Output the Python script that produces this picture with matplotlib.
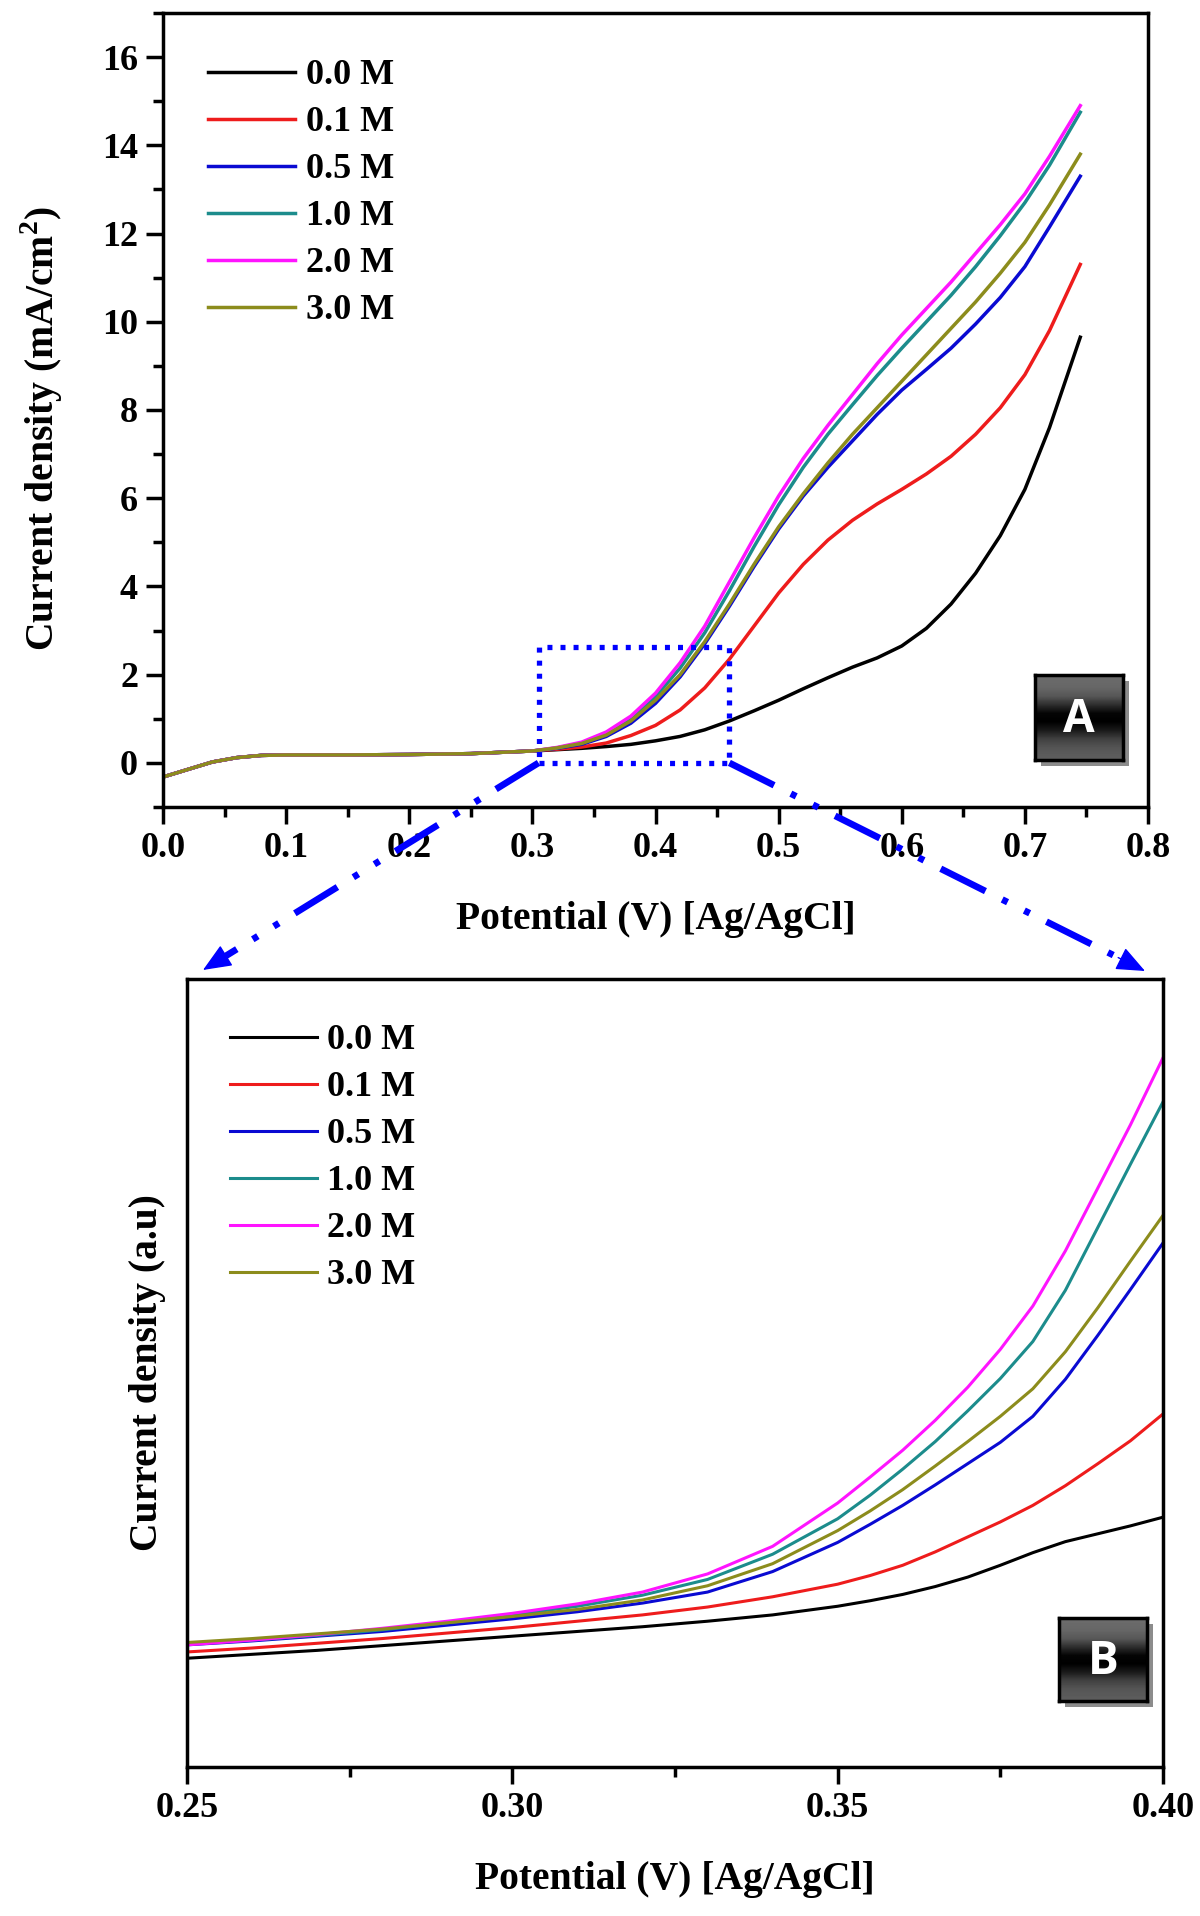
import numpy as np
import matplotlib.pyplot as plt
from matplotlib.lines import Line2D
from matplotlib.patches import Rectangle, FancyArrowPatch, ArrowStyle
from matplotlib.ticker import MultipleLocator, FormatStrFormatter

plt.rcParams['font.family'] = ['Liberation Serif', 'DejaVu Serif']
plt.rcParams['font.weight'] = 'bold'
plt.rcParams['axes.labelweight'] = 'bold'
plt.rcParams['mathtext.fontset'] = 'custom'
plt.rcParams['mathtext.rm'] = 'Liberation Serif:bold'
plt.rcParams['mathtext.bf'] = 'Liberation Serif:bold'
plt.rcParams['lines.scale_dashes'] = False

labels = ['0.0 M', '0.1 M', '0.5 M', '1.0 M', '2.0 M', '3.0 M']
colors = ['#000000', '#ee1c1c', '#0a0ad2', '#1c8c8c', '#ff14ff', '#8c8c1c']

# Panel A: full LSV scan
pot = [0.0, 0.02, 0.04, 0.06, 0.08, 0.10, 0.15, 0.20, 0.25, 0.30,
       0.32, 0.34, 0.36, 0.38, 0.40, 0.42, 0.44, 0.46, 0.48, 0.50, 0.52,
       0.54, 0.56, 0.58, 0.60, 0.62, 0.64, 0.66, 0.68, 0.70, 0.72, 0.745]
base = [-0.32, -0.15, 0.02, 0.12, 0.17, 0.18, 0.18, 0.19, 0.21, 0.27]
j_00 = base + [0.30, 0.33, 0.37, 0.42, 0.50, 0.60, 0.75, 0.95, 1.18, 1.42, 1.68,
               1.93, 2.17, 2.38, 2.65, 3.05, 3.60, 4.30, 5.15, 6.20, 7.60, 9.65]
j_01 = base + [0.31, 0.36, 0.45, 0.62, 0.85, 1.20, 1.70, 2.35, 3.10, 3.85, 4.50,
               5.05, 5.50, 5.87, 6.20, 6.55, 6.95, 7.45, 8.05, 8.80, 9.80, 11.30]
j_05 = base + [0.33, 0.42, 0.60, 0.90, 1.35, 1.95, 2.70, 3.55, 4.45, 5.30, 6.05,
               6.70, 7.30, 7.90, 8.45, 8.92, 9.40, 9.95, 10.55, 11.25, 12.15, 13.30]
j_10 = base + [0.34, 0.45, 0.66, 1.00, 1.50, 2.15, 2.95, 3.90, 4.90, 5.85, 6.70,
               7.45, 8.12, 8.78, 9.40, 10.00, 10.60, 11.25, 11.95, 12.70, 13.55, 14.75]
j_20 = base + [0.35, 0.47, 0.70, 1.06, 1.58, 2.27, 3.10, 4.10, 5.10, 6.05, 6.90,
               7.65, 8.35, 9.05, 9.70, 10.30, 10.90, 11.55, 12.20, 12.90, 13.75, 14.90]
j_30 = base + [0.34, 0.44, 0.63, 0.95, 1.42, 2.00, 2.75, 3.60, 4.50, 5.35, 6.10,
               6.80, 7.45, 8.05, 8.65, 9.25, 9.85, 10.45, 11.10, 11.80, 12.65, 13.80]

# Panel B: zoom 0.25-0.40 V (arbitrary units)
pot_z = [0.25, 0.26, 0.27, 0.28, 0.29, 0.30, 0.31, 0.32, 0.33, 0.34, 0.35,
         0.355, 0.36, 0.365, 0.37, 0.375, 0.38, 0.385, 0.39, 0.395, 0.40]
z_00 = [1.38, 1.43, 1.48, 1.54, 1.60, 1.66, 1.72, 1.78, 1.85, 1.93, 2.04,
        2.11, 2.19, 2.29, 2.41, 2.56, 2.72, 2.86, 2.96, 3.06, 3.17]
z_01 = [1.46, 1.51, 1.57, 1.63, 1.70, 1.77, 1.85, 1.93, 2.03, 2.16, 2.32,
        2.43, 2.56, 2.73, 2.92, 3.11, 3.32, 3.57, 3.85, 4.14, 4.48]
z_05 = [1.55, 1.60, 1.66, 1.72, 1.80, 1.88, 1.97, 2.08, 2.22, 2.48, 2.85,
        3.08, 3.32, 3.58, 3.85, 4.12, 4.45, 4.92, 5.48, 6.06, 6.65]
z_10 = [1.56, 1.61, 1.67, 1.74, 1.83, 1.93, 2.04, 2.18, 2.38, 2.70, 3.15,
        3.45, 3.78, 4.13, 4.52, 4.93, 5.40, 6.05, 6.85, 7.65, 8.44]
z_20 = [1.55, 1.61, 1.68, 1.76, 1.85, 1.95, 2.07, 2.22, 2.45, 2.80, 3.35,
        3.68, 4.02, 4.40, 4.82, 5.30, 5.85, 6.55, 7.35, 8.15, 9.00]
z_30 = [1.58, 1.63, 1.69, 1.75, 1.83, 1.91, 2.00, 2.12, 2.30, 2.58, 3.00,
        3.25, 3.52, 3.82, 4.13, 4.45, 4.80, 5.27, 5.83, 6.42, 7.00]

full_series = [j_00, j_01, j_05, j_10, j_20, j_30]
zoom_series = [z_00, z_01, z_05, z_10, z_20, z_30]

W, H = 1200, 1916
fig = plt.figure(figsize=(W / 100, H / 100), dpi=100)
ax1 = fig.add_axes([163 / W, 1 - 807 / H, 985 / W, 794 / H])
ax2 = fig.add_axes([187 / W, 1 - 1767 / H, 976 / W, 788 / H])


def style_axes(ax):
    for s in ax.spines.values():
        s.set_linewidth(2.5)
    ax.tick_params(which='both', direction='out', top=False, right=False,
                   width=2.5, labelsize=26, pad=6)
    ax.tick_params(which='major', length=12)
    ax.tick_params(which='minor', length=7)


# ---- panel A
for y, c, lab in zip(full_series, colors, labels):
    ax1.plot(pot, y, color=c, lw=2.5, label=lab)
ax1.set_xlim(0, 0.8)
ax1.set_ylim(-1, 17)
ax1.xaxis.set_major_locator(MultipleLocator(0.1))
ax1.xaxis.set_minor_locator(MultipleLocator(0.05))
ax1.xaxis.set_major_formatter(FormatStrFormatter('%.1f'))
ax1.yaxis.set_major_locator(MultipleLocator(2))
ax1.yaxis.set_minor_locator(MultipleLocator(1))
style_axes(ax1)
ax1.set_xlabel('Potential (V) [Ag/AgCl]', fontsize=28.5, labelpad=26)
ax1.set_ylabel('Current density (mA/cm$^\\mathregular{2}$)', fontsize=28.5)
ax1.yaxis.set_label_coords(-0.099, 0.477)
ax1.legend(loc='upper left', bbox_to_anchor=(0.0457, 0.942), frameon=False,
           fontsize=26, handlelength=2.4, handletextpad=0.3, labelspacing=0.38,
           borderpad=0, borderaxespad=0)

# dotted zoom box
box_x0, box_x1, box_y1 = 0.305, 0.46, 2.63
ax1.add_patch(Rectangle((box_x0, 0), box_x1 - box_x0, box_y1, fill=False,
                        ec='#0000ff', lw=3.8, ls=(0, (3.6, 5.8)), zorder=6,
                        capstyle='butt'))

# ---- panel B
for y, c, lab in zip(zoom_series, colors, labels):
    ax2.plot(pot_z, y, color=c, lw=2.2, label=lab)
ax2.set_xlim(0.25, 0.40)
ax2.set_ylim(0, 10)
ax2.xaxis.set_major_locator(MultipleLocator(0.05))
ax2.xaxis.set_minor_locator(MultipleLocator(0.025))
ax2.xaxis.set_major_formatter(FormatStrFormatter('%.2f'))
ax2.set_yticks([])
style_axes(ax2)
ax2.tick_params(axis='y', left=False, which='both')
ax2.set_xlabel('Potential (V) [Ag/AgCl]', fontsize=28.5, labelpad=26)
ax2.set_ylabel('Current density (a.u)', fontsize=28.5, labelpad=15)
ax2.legend(loc='upper left', bbox_to_anchor=(0.044, 0.943), frameon=False,
           fontsize=26, handlelength=2.4, handletextpad=0.3, labelspacing=0.38,
           borderpad=0, borderaxespad=0)

# ---- dash-dot-dot arrows from box to panel B
fig.canvas.draw()
to_px = ax1.transData
inv = fig.transFigure.inverted()
dash = (0, (36, 13.5, 4.3, 13.5, 4.3, 13.5))
starts = [to_px.transform((box_x0, 0)), to_px.transform((box_x1, 0))]
ends = [np.array([203.0, H - 970.0]), np.array([1145.0, H - 971.0])]
for p0, p1 in zip(starts, ends):
    d = (p1 - p0) / np.hypot(*(p1 - p0))
    q = p1 - d * 20
    a, b = inv.transform(p0), inv.transform(q)
    fig.add_artist(Line2D([a[0], b[0]], [a[1], b[1]], transform=fig.transFigure,
                          color='#0000ff', lw=4.8, ls=dash, solid_capstyle='butt',
                          dash_capstyle='butt', zorder=7))
    h0 = inv.transform(p1 - d * 30)
    h1 = inv.transform(p1)
    fig.add_artist(FancyArrowPatch(h0, h1, transform=fig.transFigure,
                                   arrowstyle=ArrowStyle('-|>', head_length=1.0, head_width=0.42),
                                   mutation_scale=18, color='#0000ff', lw=1,
                                   shrinkA=0, shrinkB=0, zorder=7))

# ---- A / B badges
grad = np.array([[0.42], [0.40], [0.34], [0.18], [0.02], [0.0], [0.10], [0.25], [0.33], [0.36]])


def badge(x0, y0, x1, y1, letter):
    fx, fy, fw, fh = x0 / W, 1 - y1 / H, (x1 - x0) / W, (y1 - y0) / H
    fig.add_artist(Rectangle((fx + 6 / W, fy - 6 / H), fw, fh, transform=fig.transFigure,
                             fc='#8c8c8c', ec='none', zorder=8))
    bx = fig.add_axes([fx, fy, fw, fh])
    bx.set_zorder(9)
    bx.imshow(grad, aspect='auto', cmap='gray', vmin=0, vmax=1,
              extent=[0, 1, 0, 1], interpolation='bilinear')
    bx.set_xticks([])
    bx.set_yticks([])
    for s in bx.spines.values():
        s.set_linewidth(2.5)
    bx.text(0.5, 0.48, letter, color='white', fontsize=33, fontweight='bold',
            family=['Open Sans', 'DejaVu Sans'], ha='center', va='center')


badge(1035, 675, 1123, 760, 'A')
badge(1059, 1618, 1147, 1701, 'B')

fig.savefig('out.png', dpi=100)
